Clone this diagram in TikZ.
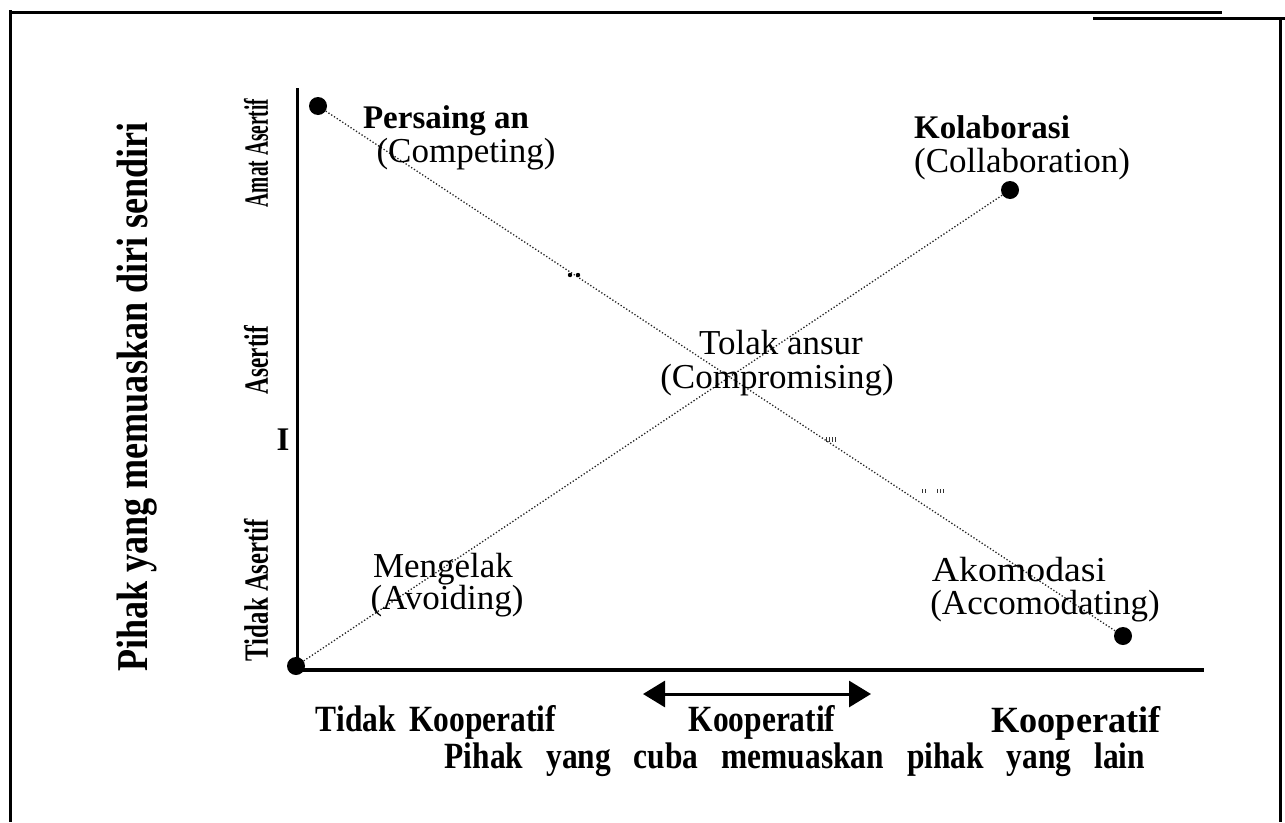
\documentclass[tikz,border=0pt]{standalone}
\usepackage{fontspec}
\setmainfont{Liberation Serif}
\usetikzlibrary{arrows.meta}
\tikzset{
  frame/.style={line width=3pt, line cap=butt},
  axis/.style={line width=3pt},
  dotline/.style={dotted, line width=1.3pt, black!85},
  dotpt/.style={circle, fill=black, inner sep=0pt, minimum size=18pt},
  lab/.style={font=\fontsize{35}{38}\selectfont, inner sep=0pt, text height=26pt, text depth=4pt},
  blab/.style={font=\fontsize{33}{36}\selectfont\bfseries, inner sep=0pt, text height=25pt, text depth=4pt},
  cond/.style={font=\fontsize{37}{40}\selectfont\bfseries, inner sep=0pt, text height=22pt, text depth=5pt},
  rlab/.style={inner sep=0pt, rotate=90, font=\fontsize{34}{36}\selectfont\bfseries},
  tick/.style={line width=0.8pt, black!80},
}
\newcommand{\wsp}{\hspace{16pt}}
\newcommand{\wwsp}{\hspace{27pt}}
\begin{document}
\begin{tikzpicture}[x=1pt,y=-1pt]
\useasboundingbox (0,0) rectangle (1285,822);
% frame
\draw[frame] (10.5,10) -- (10.5,822);
\draw[frame] (9,12) -- (1222,12);
\draw[frame] (1093,18) -- (1285,18);
\draw[frame] (1280,18) -- (1280,822);
% axes
\coordinate (ytop) at (297,88);
\coordinate (orig) at (297,670);
\coordinate (xend) at (1204,670);
\draw[axis] (ytop) -- (orig);
\draw[line width=3.5pt] (orig) -- (xend);
% points
\node[dotpt] (comp) at (318,106) {};
\node[dotpt] (coll) at (1010,190) {};
\node[dotpt] (avoid) at (296,666) {};
\node[dotpt] (acc) at (1123,636) {};
\draw[dotline] (comp) -- (acc);
\draw[dotline] (avoid) -- (coll);
% small marks on the line
\fill (570,275) circle (2.2pt);
\fill (578,275) circle (2.2pt);
\foreach \x in {826,829,832,835} \draw[tick] (\x,437) -- (\x,442);
\foreach \x in {922,925,937,940,943} \draw[tick] (\x,489) -- (\x,493);
% labels
\node[blab] (t1) at (446,118) {Persaing an};
\node[lab] (t2) at (466,151) {(Competing)};
\node[blab] (t3) at (992,128) {Kolaborasi};
\node[lab] (t4) at (1022,161) {(Collaboration)};
\node[lab] (t5) at (781,343) {Tolak ansur};
\node[lab] (t6) at (777,377) {(Compromising)};
\node[lab] (t7) at (443,566) {Mengelak};
\node[lab] (t8) at (447,598) {(Avoiding)};
\node[lab] (t9) at (1019,570) {\scalebox{1.08}[1]{Akomodasi}};
\node[lab] (t10) at (1045,603) {(Accomodating)};
% y axis labels
\node[inner sep=0pt, rotate=90, font=\fontsize{44}{46}\selectfont\bfseries] (ylab) at (137,397) {\scalebox{0.82}[1]{Pihak yang memuaskan diri sendiri}};
\node[rlab] (y1) at (256,153) {\scalebox{0.57}[1]{Amat Asertif}};
\node[rlab] (y2) at (256,360) {\scalebox{0.68}[1]{Asertif}};
\node[rlab] (y3) at (256,590) {\scalebox{0.73}[1]{Tidak Asertif}};
\node[blab] (ii) at (283,440) {I};
% bottom
\coordinate (al) at (643,694);
\coordinate (ar) at (871,694);
\draw[line width=3pt, {Triangle[length=22pt,width=26pt]}-{Triangle[length=22pt,width=26pt]}] (al) -- (ar);
\node[cond] (b1) at (436,723) {\scalebox{0.85}[1]{Tidak\wsp Kooperatif}};
\node[cond] (b2) at (762,723) {\scalebox{0.85}[1]{Kooperatif}};
\node[cond] (b3) at (1076,724) {\scalebox{0.98}[1]{Kooperatif}};
\node[cond] (b4) at (795,760) {\scalebox{0.85}[1]{Pihak\wwsp yang\wwsp cuba\wwsp memuaskan\wwsp pihak\wwsp yang\wwsp lain}};
\end{tikzpicture}
\end{document}
